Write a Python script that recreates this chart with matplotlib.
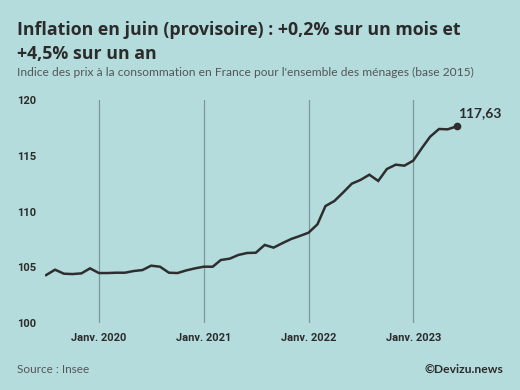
import matplotlib
matplotlib.use("Agg")
import matplotlib.pyplot as plt
import matplotlib.dates as mdates
import pandas as pd

months = pd.date_range("2019-07-01", periods=48, freq="MS")
values = [
    104.30, 104.78, 104.42, 104.39, 104.45, 104.90,
    104.48, 104.48, 104.51, 104.51, 104.66, 104.75, 105.14, 105.05, 104.51, 104.48, 104.72, 104.90,
    105.05, 105.05, 105.65, 105.77, 106.10, 106.28, 106.30, 107.00, 106.76, 107.15, 107.53, 107.80,
    108.10, 108.85, 110.49, 110.94, 111.69, 112.50, 112.83, 113.30, 112.74, 113.81, 114.20, 114.11,
    114.56, 115.72, 116.71, 117.40, 117.37, 117.63,
]
tick_dates = pd.to_datetime(["2020-01-01", "2021-01-01", "2022-01-01", "2023-01-01"])
tick_labels = ["Janv. 2020", "Janv. 2021", "Janv. 2022", "Janv. 2023"]
y_ticks = [100, 105, 110, 115, 120]
last_label = "117,63"

BG = "#b4dcdd"
DARK = "#2b2b2b"
W, H = 520, 390

fig = plt.figure(figsize=(W / 100, H / 100), dpi=100, facecolor=BG)
plt.rcParams["font.family"] = ["Lato", "DejaVu Sans"]

def fx(px):
    return px / W

def fy(py):
    return 1 - py / H

ax_l, ax_r, ax_t, ax_b = 45, 505, 100, 323
ax = fig.add_axes([fx(ax_l), fy(ax_b), fx(ax_r - ax_l), (ax_b - ax_t) / H])
ax.set_facecolor(BG)

for d in tick_dates:
    ax.axvline(d, color="#7d9697", lw=0.9, zorder=1)

ax.plot(months, values, color="#2e2e2e", lw=1.8, zorder=3, solid_joinstyle="miter")
ax.plot(months[-1:], values[-1:], "o", color="#2e2e2e", ms=4.5, zorder=4)
ax.annotate(last_label, (mdates.date2num(months[-1]), values[-1]), xytext=(1, 5),
            textcoords="offset points", ha="left", va="bottom",
            fontsize=10, fontweight="bold", color=DARK)

ax.set_xlim(mdates.date2num(pd.Timestamp("2019-06-27")), mdates.date2num(pd.Timestamp("2023-11-17")))
ax.set_ylim(100, 120)
ax.set_yticks(y_ticks)
ax.set_yticklabels([str(v) for v in y_ticks])
ax.set_xticks(tick_dates)
ax.set_xticklabels(tick_labels)
ax.tick_params(axis="both", length=0, colors=DARK, labelsize=8)
ax.tick_params(axis="y", pad=6)
ax.tick_params(axis="x", pad=7)
for lab in ax.get_xticklabels() + ax.get_yticklabels():
    lab.set_fontweight("bold")
    lab.set_family(["Roboto", "DejaVu Sans"])
for s in ax.spines.values():
    s.set_visible(False)

title_font = ["Open Sans", "DejaVu Sans"]
fig.text(fx(17), fy(35), "Inflation en juin (provisoire) : +0,2% sur un mois et",
         fontsize=12.8, fontweight="bold", color=DARK, va="baseline", ha="left", family=title_font)
fig.text(fx(17), fy(59), "+4,5% sur un an",
         fontsize=12.8, fontweight="bold", color=DARK, va="baseline", ha="left", family=title_font)
fig.text(fx(17), fy(76), "Indice des prix à la consommation en France pour l'ensemble des ménages (base 2015)",
         fontsize=8.65, color="#555555", va="baseline", ha="left")
fig.text(fx(17), fy(373), "Source : Insee", fontsize=8.5, color="#555555", va="baseline", ha="left")
fig.text(fx(503), fy(373), "©Devizu.news", fontsize=8.7, fontweight="bold", color=DARK,
         va="baseline", ha="right")

fig.savefig("out.png", dpi=100, facecolor=BG)
